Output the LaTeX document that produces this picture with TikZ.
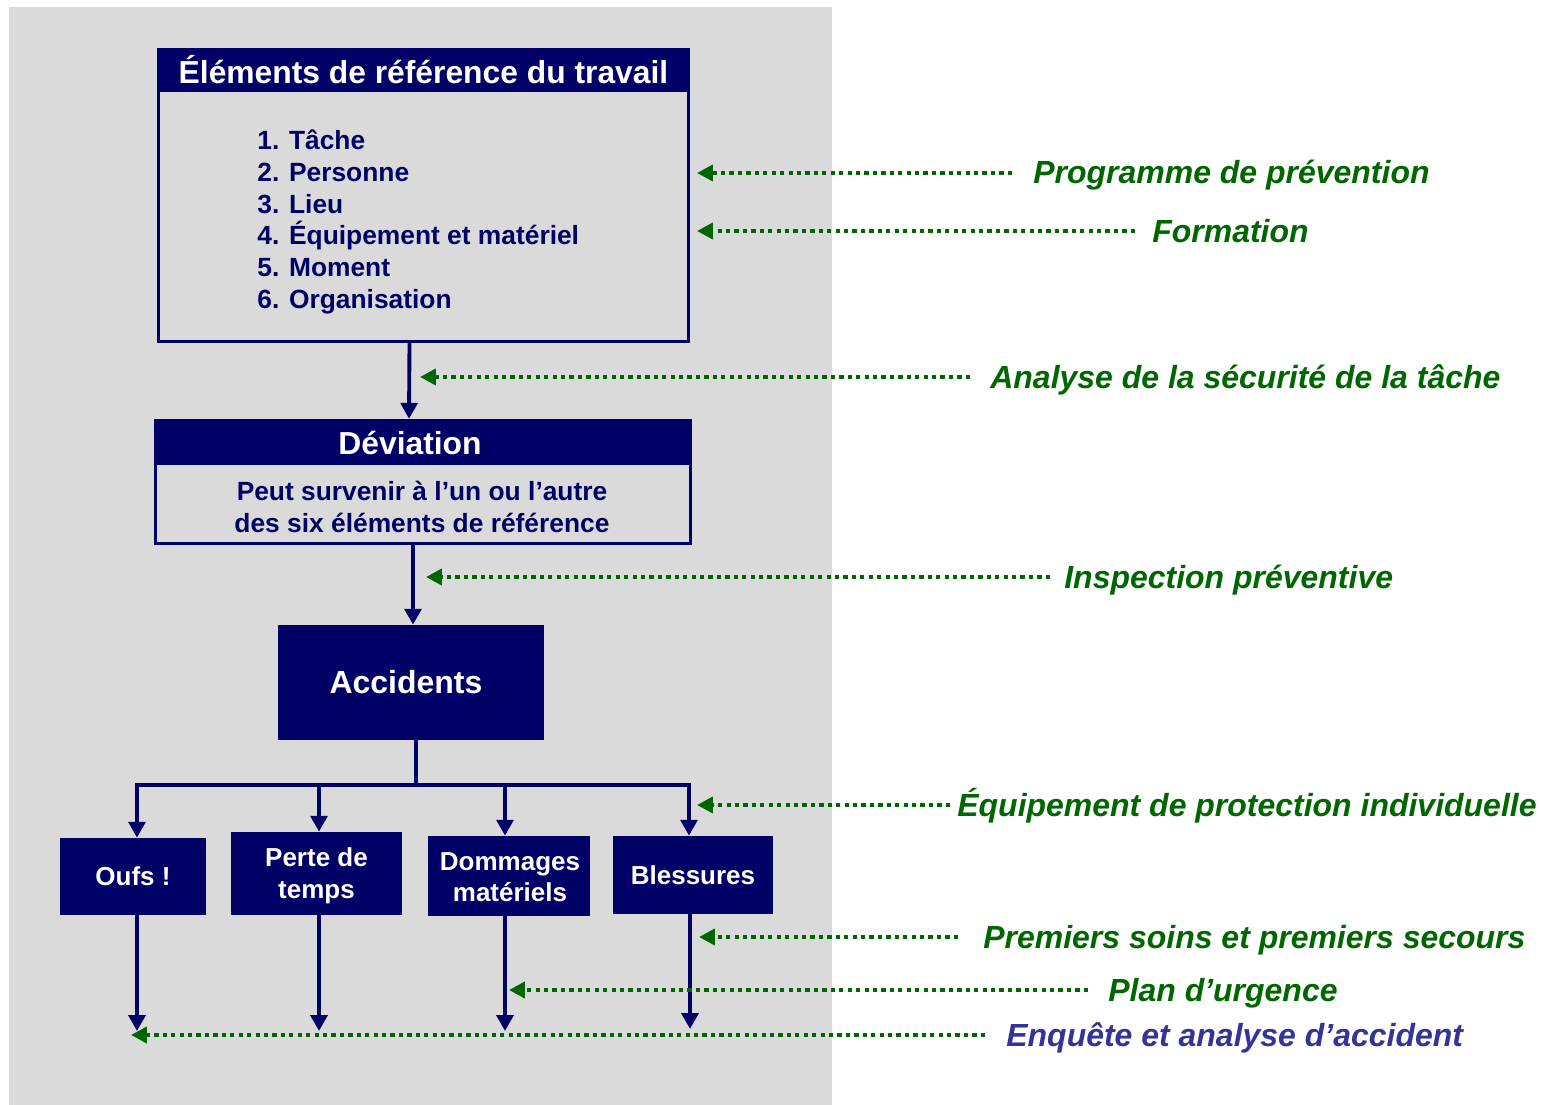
\documentclass[tikz,border=0pt]{standalone}
\usepackage{fontspec}
\setmainfont{Liberation Sans}
\usetikzlibrary{arrows.meta,calc}
\definecolor{navy}{HTML}{000066}
\definecolor{dgreen}{HTML}{006600}
\definecolor{vblue}{HTML}{333399}
\definecolor{bggray}{HTML}{DADADA}
\begin{document}
\begin{tikzpicture}[x=0.02cm,y=-0.02cm,
  nbox/.style={draw=navy,line width=2pt,inner sep=0pt},
  hband/.style={fill=navy,text=white,inner sep=0pt,font=\fontsize{18.1}{21}\selectfont\bfseries},
  sbox/.style={fill=navy,text=white,align=center,inner sep=0pt,font=\fontsize{14.8}{18}\selectfont\bfseries},
  body/.style={text=navy,inner sep=0pt,font=\fontsize{15}{18.1}\selectfont\bfseries},
  nline/.style={draw=navy,line width=2.2pt},
  narr/.style={draw=navy,line width=2.2pt,-{Triangle[length=9pt,width=9.5pt]}},
  garr/.style={draw=dgreen,line width=2.4pt,dash pattern=on 2.4pt off 2.4pt,-{Triangle[length=9pt,width=9pt,fill=dgreen]}},
  lab/.style={anchor=base west,inner sep=0pt,text=dgreen,font=\fontsize{18.2}{21}\selectfont\bfseries\itshape}]
\useasboundingbox (0,0) rectangle (1543,1105);
\fill[white] (0,0) rectangle (1543,1105);
\fill[bggray] (9,7) rectangle (832,1105);

% reference box
\node[nbox,minimum width=10.6cm,minimum height=5.84cm] (ref) at (423.5,195.5) {};
\node[hband,minimum width=10.66cm,minimum height=0.88cm] (refh) at (423.5,70) {Éléments de référence du travail};
\node[body,anchor=west,align=left] (list) at (257,222) {1. Tâche\\2. Personne\\3. Lieu\\4. Équipement et matériel\\5. Moment\\6. Organisation};

% deviation box
\node[nbox,minimum width=10.7cm,minimum height=2.46cm] (dev) at (423,482) {};
\node[hband,minimum width=10.76cm,minimum height=0.92cm] (devh) at (423,442) {};
\node[hband,fill=none] (devht) at (410,443) {Déviation};
\node[body,align=center] (devt) at (422,507) {Peut survenir à l’un ou l’autre\\des six éléments de référence};

% accidents
\node[fill=navy,inner sep=0pt,minimum width=5.32cm,minimum height=2.3cm] (acc) at (411,682.5) {};
\node[text=white,inner sep=0pt,font=\fontsize{18.2}{21}\selectfont\bfseries] (acct) at (406,682) {Accidents};

\draw[narr] ($(ref.south)+(-14,0)$) -- ($(dev.north)+(-14,0)$);
\draw[narr] ($(dev.south)+(-10,0)$) -- ($(acc.north)+(2,0)$);

% consequence boxes
\node[sbox,minimum width=2.92cm,minimum height=1.54cm] (oufs) at (133,876.5) {Oufs !};
\node[sbox,minimum width=3.42cm,minimum height=1.66cm] (perte) at (316.5,873.5) {};
\node[sbox] (pertet) at (316.5,876) {Perte de\\temps};
\node[sbox,minimum width=3.24cm,minimum height=1.6cm] (domm) at (509,876) {};
\node[sbox] (dommt) at (510,877) {Dommages\\matériels};
\node[sbox,minimum width=3.2cm,minimum height=1.56cm] (bless) at (693,875) {Blessures};

% branching
\coordinate (j) at (416,785);
\coordinate (b1) at (137,785);
\coordinate (b2) at (319,785);
\coordinate (b3) at (505,785);
\coordinate (b4) at (689,785);
\draw[nline] ($(acc.south)+(5,0)$) -- (j);
\draw[narr] (j) -| (b1 |- oufs.north);
\draw[narr] (j) -| (b4 |- bless.north);
\draw[narr] (b2) -- (b2 |- perte.north);
\draw[narr] (b3) -- (b3 |- domm.north);

% bottom arrows
\coordinate (e1) at (137,1031);
\coordinate (e2) at (319,1031);
\coordinate (e3) at (505,1031);
\coordinate (e4) at (690,1029);
\draw[narr] (e1 |- oufs.south) -- (e1);
\draw[narr] (e2 |- perte.south) -- (e2);
\draw[narr] (e3 |- domm.south) -- (e3);
\draw[narr] (e4 |- bless.south) -- (e4);

% prevention measures
\coordinate (t1) at (697,173);
\coordinate (t2) at (697,231);
\coordinate (t3) at (420,377);
\coordinate (t4) at (426,577);
\coordinate (t5) at (697,805);
\coordinate (t6) at (699,937);
\coordinate (t7) at (509,990);
\coordinate (t8) at (131,1035);
\node[lab] (l1) at (1033,184) {Programme de prévention};
\node[lab] (l2) at (1152,242) {Formation};
\node[lab] (l3) at (990,388) {Analyse de la sécurité de la tâche};
\node[lab] (l4) at (1064,588) {Inspection préventive};
\node[lab] (l5) at (957,816) {Équipement de protection individuelle};
\node[lab] (l6) at (983,948) {Premiers soins et premiers secours};
\node[lab] (l7) at (1108,1001) {Plan d’urgence};
\node[lab,text=vblue] (l8) at (1006,1046) {Enquête et analyse d’accident};
\draw[garr] ($(l1.base west)+(-21,-11)$) -- (t1);
\draw[garr] ($(l2.base west)+(-17,-11)$) -- (t2);
\draw[garr] ($(l3.base west)+(-20,-11)$) -- (t3);
\draw[garr] ($(l4.base west)+(-14,-11)$) -- (t4);
\draw[garr] ($(l5.base west)+(-7,-11)$) -- (t5);
\draw[garr] ($(l6.base west)+(-25,-11)$) -- (t6);
\draw[garr] ($(l7.base west)+(-20,-11)$) -- (t7);
\draw[garr] ($(l8.base west)+(-21,-11)$) -- (t8);
\end{tikzpicture}
\end{document}
